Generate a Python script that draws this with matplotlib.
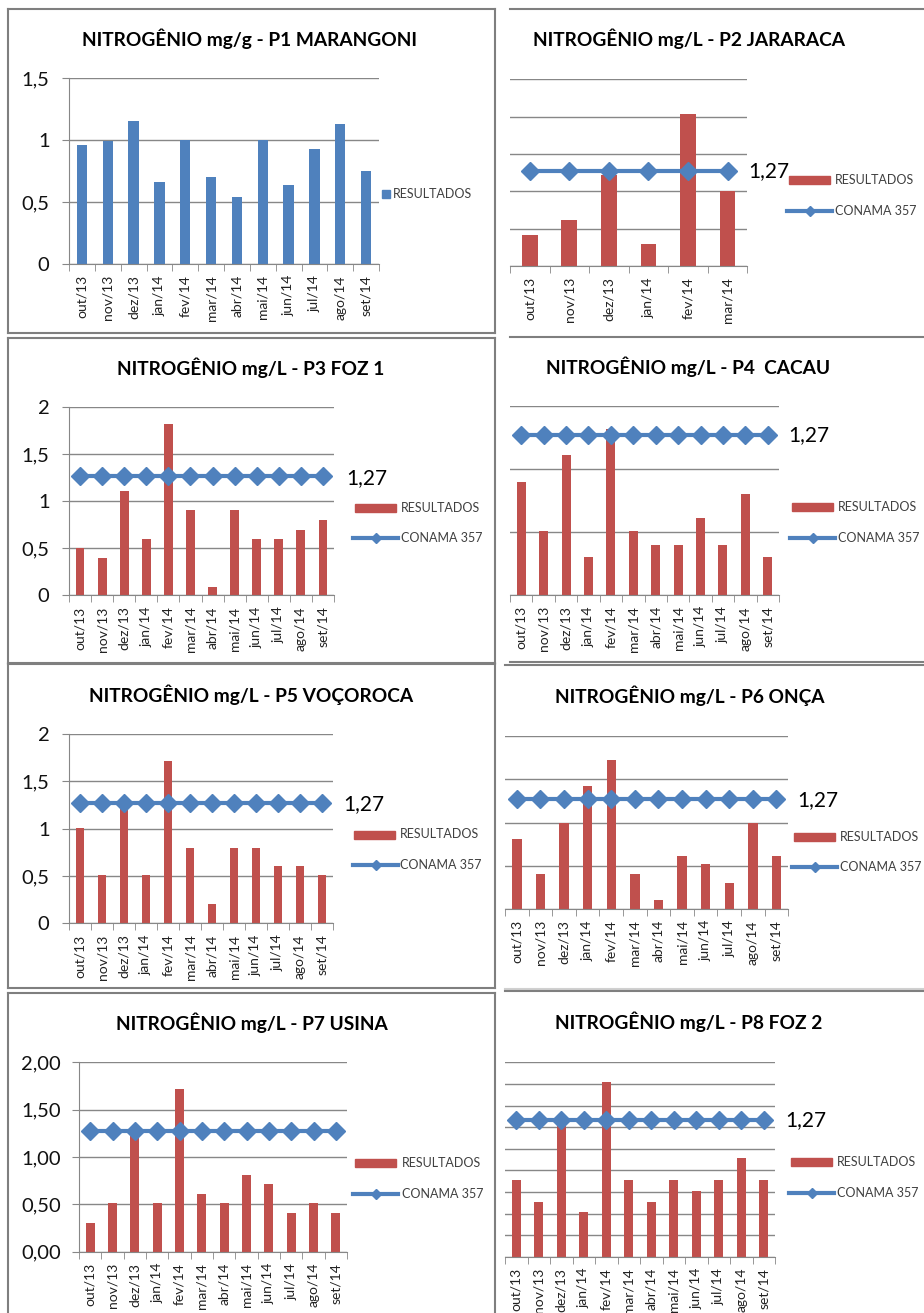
import numpy as np
import matplotlib
matplotlib.use('Agg')
import matplotlib.pyplot as plt
from matplotlib.patches import Rectangle
from matplotlib.lines import Line2D

plt.rcParams['font.family'] = ['Lato', 'DejaVu Sans']

# dados
meses = ['out/13', 'nov/13', 'dez/13', 'jan/14', 'fev/14', 'mar/14',
         'abr/14', 'mai/14', 'jun/14', 'jul/14', 'ago/14', 'set/14']
conama = 1.27
conama_txt = '1,27'
p1 = [0.96, 0.99, 1.15, 0.66, 1.00, 0.70, 0.54, 1.00, 0.64, 0.93, 1.13, 0.75]
p2 = [0.41, 0.62, 1.22, 0.29, 2.04, 1.01]
p3 = [0.50, 0.40, 1.11, 0.60, 1.82, 0.91, 0.09, 0.91, 0.60, 0.60, 0.70, 0.80]
p4 = [0.90, 0.51, 1.11, 0.30, 1.32, 0.51, 0.40, 0.40, 0.61, 0.40, 0.80, 0.30]
p5 = [1.01, 0.51, 1.25, 0.51, 1.72, 0.80, 0.20, 0.80, 0.80, 0.61, 0.61, 0.51]
p6 = [0.81, 0.41, 1.00, 1.42, 1.72, 0.41, 0.10, 0.61, 0.52, 0.30, 1.00, 0.61]
p7 = [0.30, 0.51, 1.25, 0.51, 1.72, 0.61, 0.51, 0.81, 0.71, 0.41, 0.51, 0.41]
p8 = [0.71, 0.51, 1.25, 0.41, 1.62, 0.71, 0.51, 0.71, 0.61, 0.71, 0.91, 0.71]

titulos = ['NITROGÊNIO mg/g - P1 MARANGONI', 'NITROGÊNIO mg/L - P2 JARARACA',
           'NITROGÊNIO mg/L - P3 FOZ 1', 'NITROGÊNIO mg/L - P4  CACAU',
           'NITROGÊNIO mg/L - P5 VOÇOROCA', 'NITROGÊNIO mg/L - P6 ONÇA',
           'NITROGÊNIO mg/L - P7 USINA', 'NITROGÊNIO mg/L - P8 FOZ 2']

AZUL = '#4F81BD'
VERM = '#C0504D'
CINZA = '#878787'

W, H = 924, 1313
fig = plt.figure(figsize=(W / 100, H / 100), dpi=100)


def fx(x):
    return x / W


def fy(y):
    return 1 - y / H


def hline(x0, x1, y, color='#7f7f7f', lw=1.5):
    fig.add_artist(Line2D([fx(x0), fx(x1)], [fy(y), fy(y)], color=color, lw=lw))


def caixa(x0, x1, y0, y1):
    hline(x0, x1, y0)
    hline(x0, x1, y1)
    fig.add_artist(Line2D([fx(x0), fx(x0)], [fy(y0), fy(y1)], color='#7f7f7f', lw=1.5))
    fig.add_artist(Line2D([fx(x1), fx(x1)], [fy(y0), fy(y1)], color='#7f7f7f', lw=1.5))


def painel(vals, l, r, top, base, xl, ymax, step, ylabels=None,
           cor=VERM, linha=True, ypad=9):
    n = len(vals)
    ax = fig.add_axes([fx(l), fy(base), (r - l) / W, (base - top) / H])
    ax.patch.set_alpha(0)
    ax.set_xlim(xl, n - 0.5)
    ax.set_ylim(0, ymax)
    ax.set_yticks(np.arange(0, ymax + 1e-9, step))
    ax.yaxis.grid(True, color=CINZA, lw=1)
    ax.set_axisbelow(True)
    for s in ['top', 'right']:
        ax.spines[s].set_visible(False)
    ax.spines['bottom'].set_color(CINZA)
    ax.spines['left'].set_color(CINZA)
    ax.spines['left'].set_visible(ylabels is not None)
    ax.set_xticks(range(n))
    ax.set_xticklabels(meses[:n], rotation=90, fontsize=10, color='#222222')
    ax.set_xticks(np.arange(-0.5, n, 1), minor=True)
    ax.tick_params(axis='x', which='major', length=0, pad=8)
    ax.tick_params(axis='x', which='minor', length=5, color=CINZA)
    if ylabels is not None:
        ax.set_yticklabels(ylabels, fontsize=14.5, color='#111111')
        ax.tick_params(axis='y', length=5, color=CINZA, pad=ypad)
    else:
        ax.tick_params(axis='y', length=0, labelleft=False)
    x = np.arange(n)
    ax.bar(x, vals, width=0.4, color=cor, zorder=2)
    if linha:
        ax.plot(x, [conama] * n, color=AZUL, lw=3, marker='D', ms=9,
                zorder=3, clip_on=True)
    return ax


def titulo_txt(texto, x, y):
    fig.text(fx(x), fy(y), texto, fontsize=13.8, fontweight='bold',
             ha='center', va='center', color='black')


def legenda(xr, yr, xl_, yl, tx):
    fig.add_artist(Rectangle((fx(xr), fy(yr + 4)), 41 / W, 8 / H,
                             transform=fig.transFigure, color=VERM))
    fig.text(fx(tx), fy(yr), 'RESULTADOS', fontsize=9, va='center',
             color='#404040')
    fig.add_artist(Line2D([fx(xl_), fx(xl_ + 45)], [fy(yl), fy(yl)],
                          color=AZUL, lw=3))
    fig.add_artist(Line2D([fx(xl_ + 22.5)], [fy(yl)], color=AZUL,
                          marker='D', ms=5))
    fig.text(fx(tx), fy(yl), 'CONAMA 357', fontsize=9, va='center',
             color='#404040')


def rotulo(x, y):
    fig.text(fx(x), fy(y), conama_txt, fontsize=15, va='center', color='black')


# bordas
caixa(8, 495, 9, 333)
hline(510, 924, 9)
hline(510, 924, 337)
caixa(8, 495, 338, 663)
hline(510, 924, 662)
caixa(8, 495, 664, 988)
hline(505, 924, 665)
hline(505, 924, 989, color='#d0d0d0')
caixa(8, 495, 993, 1330)
hline(505, 924, 991)

# P1
painel(p1, 69, 379, 78, 264, -0.5, 1.5, 0.5,
       ['0', '0,5', '1', '1,5'], cor=AZUL, linha=False)
titulo_txt(titulos[0], 249, 39)
fig.add_artist(Rectangle((fx(382), fy(198)), 8 / W, 8 / H,
                         transform=fig.transFigure, color=AZUL))
fig.text(fx(393), fy(194), 'RESULTADOS', fontsize=9, va='center', color='#404040')

# P2
painel(p2, 510, 747.3, 79.3, 266, -0.43, 2.5, 0.5)
titulo_txt(titulos[1], 689, 39)
rotulo(748, 171)
legenda(789, 180, 787, 211, 835)

# P3
painel(p3, 69, 334, 407.3, 595.3, -0.5, 2.0, 0.5,
       ['0', '0,5', '1', '1,5', '2'])
titulo_txt(titulos[2], 251, 368)
rotulo(346, 478)
legenda(355, 508, 353, 538, 401)

# P4
painel(p4, 510, 779, 406, 595, -0.37, 1.5, 0.5)
titulo_txt(titulos[3], 688, 367)
rotulo(788, 435)
legenda(792, 507, 790, 538, 838)

# P5
painel(p5, 69, 333, 734, 923.3, -0.5, 2.0, 0.5,
       ['0', '0,5', '1', '1,5', '2'])
titulo_txt(titulos[4], 251, 695)
rotulo(343, 804)
legenda(354, 834.5, 353, 865, 400)

# P6
painel(p6, 505, 788.3, 736.3, 909, -0.063, 2.0, 0.5)
titulo_txt(titulos[5], 690, 696)
rotulo(797, 800)
legenda(794, 837, 792, 867, 840)

# P7
painel(p7, 79, 347, 1062.3, 1251.7, -0.5, 2.0, 0.5,
       ['0,00', '0,50', '1,00', '1,50', '2,00'], ypad=8)
titulo_txt(titulos[6], 252, 1023)
legenda(355, 1163, 353, 1194, 402)

# P8
painel(p8, 505, 775, 1062.3, 1256.7, -0.325, 1.8, 0.2)
titulo_txt(titulos[7], 689, 1022)
rotulo(785, 1120)
legenda(791, 1162, 789, 1193, 837)

fig.savefig('out.png', dpi=100)
